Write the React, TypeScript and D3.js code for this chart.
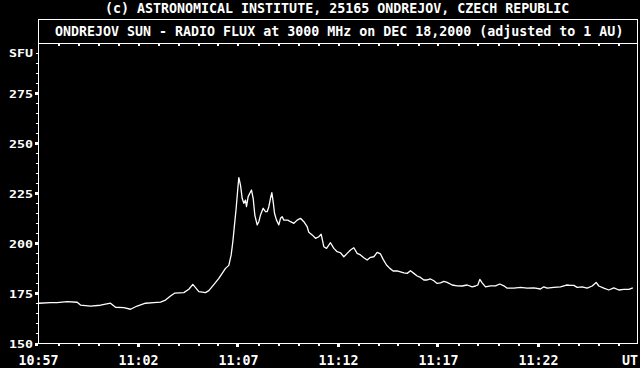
import React from "react";
import * as d3 from "d3";

// seconds after 10:57:00 UT
const timeSec: number[] = [
  1, 36, 56, 86, 116, 126, 156, 186, 216, 231, 256, 276, 296, 321, 346, 366, 381, 396, 408, 436,
  451, 463, 481, 501, 511, 529, 541, 551, 561, 571, 578, 583, 588, 593, 598, 601, 606, 611, 616, 621,
  624, 629, 634, 639, 644, 649, 656, 661, 666, 674, 681, 686, 691, 696, 700, 704, 708, 714, 721, 726,
  731, 736, 748, 756, 766, 776, 786, 796, 806, 811, 821, 831, 841, 848, 856, 864, 876, 886, 896, 906,
  916, 926, 936, 946, 956, 966, 976, 986, 996, 1006, 1016, 1026, 1034, 1044, 1054, 1064, 1076, 1086, 1096, 1106,
  1116, 1126, 1136, 1146, 1156, 1166, 1176, 1186, 1196, 1206, 1216, 1226, 1241, 1256, 1271, 1286, 1301, 1311, 1318, 1324,
  1331, 1341, 1356, 1371, 1384, 1396, 1406, 1426, 1446, 1466, 1486, 1506, 1516, 1526, 1546, 1566, 1584, 1596, 1606, 1616,
  1631, 1646, 1661, 1673, 1681, 1696, 1711, 1726, 1741, 1756, 1771, 1783,
];

// solar radio flux (SFU)
const fluxSfu: number[] = [
  170.1, 170.4, 170.4, 170.9, 170.6, 169.2, 168.7, 169.1, 170.1, 168.1, 167.9, 167.1, 168.7, 170.1, 170.4, 170.7, 171.7, 173.7, 175.1, 175.4,
  177.1, 179.5, 175.9, 175.4, 176.4, 180.0, 182.5, 185.0, 187.5, 189.0, 194.2, 200.8, 209.2, 217.5, 227.5, 232.8, 229.1, 222.5, 220.0, 221.6,
  218.3, 223.3, 225.0, 226.6, 222.5, 214.1, 209.2, 210.8, 214.1, 217.5, 215.8, 215.8, 218.3, 222.5, 225.3, 220.8, 215.0, 211.6, 209.2, 212.5,
  213.3, 211.6, 211.6, 210.8, 210.0, 211.6, 212.5, 210.8, 208.3, 205.5, 204.2, 202.5, 203.3, 204.6, 198.3, 197.5, 200.3, 197.5, 195.8, 195.3,
  193.3, 195.0, 196.7, 197.8, 195.0, 194.2, 192.8, 191.7, 193.0, 193.3, 195.5, 194.7, 192.0, 189.2, 187.5, 186.2, 186.3, 185.8, 185.3, 185.0,
  186.3, 185.0, 183.7, 183.0, 181.7, 181.7, 182.2, 181.3, 180.0, 180.3, 181.0, 180.5, 179.2, 178.8, 178.7, 179.2, 178.3, 178.7, 179.2, 182.0,
  180.3, 178.3, 178.8, 178.8, 179.7, 178.8, 177.6, 177.6, 178.0, 177.6, 177.8, 177.2, 178.3, 177.6, 178.0, 178.3, 179.2, 179.0, 179.0, 178.0,
  178.3, 177.6, 178.7, 180.5, 178.7, 177.6, 176.7, 177.8, 176.7, 177.0, 177.0, 177.8,
];

const yTickValues: number[] = [150, 175, 200, 225, 250, 275];
const xTickLabels: string[] = ["10:57", "11:02", "11:07", "11:12", "11:17", "11:22"];

const headerText = "(c) ASTRONOMICAL INSTITUTE, 25165 ONDREJOV, CZECH REPUBLIC";
const titleText = "ONDREJOV SUN - RADIO FLUX at 3000 MHz on DEC 18,2000 (adjusted to 1 AU)";

const W = 640;
const H = 368;
const FONT = "'DejaVu Sans Mono', 'Liberation Mono', monospace";

export default function App() {
  const x = d3.scaleLinear().domain([0, 1800]).range([38.5, 638.5]);
  const y = d3.scaleLinear().domain([150, 300]).range([343.5, 43]);

  const data = timeSec.map((t, i) => ({ t, v: fluxSfu[i] }));
  const line = d3
    .line<{ t: number; v: number }>()
    .x((d) => x(d.t))
    .y((d) => y(d.v));

  const minorY = d3.range(150, 300, 5).filter((v) => v % 25 !== 0);
  const minuteTicks = d3.range(60, 1800, 60);
  const majorX = d3.range(0, 1800, 300);

  const txt = {
    fontFamily: FONT,
    fontSize: 13.3,
    fontWeight: 700 as const,
    fill: "#fff",
  };

  return (
    <svg
      width={W}
      height={H}
      style={{ position: "absolute", left: 0, top: 0, background: "#000" }}
    >
      <rect x={0} y={0} width={W} height={H} fill="#000" />

      <text x={105} y={13} {...txt}>
        {headerText}
      </text>

      {/* title box */}
      <rect x={38.5} y={19.5} width={599} height={24} fill="none" stroke="#fff" strokeWidth={1} shapeRendering="crispEdges" />
      <text x={55} y={36} {...txt}>
        {titleText}
      </text>

      {/* frame */}
      <line x1={38.5} x2={38.5} y1={43} y2={344} stroke="#fff" shapeRendering="crispEdges" />
      <line x1={38} x2={638} y1={343.5} y2={343.5} stroke="#fff" shapeRendering="crispEdges" />
      <line x1={637.5} x2={637.5} y1={19} y2={344} stroke="#fff" shapeRendering="crispEdges" />

      {/* y ticks */}
      {minorY.map((v) => (
        <rect key={"my" + v} x={36} y={Math.round(y(v)) - 0.5} width={2} height={1} fill="#fff" shapeRendering="crispEdges" />
      ))}
      {yTickValues.map((v) => (
        <rect key={"My" + v} x={35} y={Math.round(y(v)) - 1.5} width={3} height={3} fill="#fff" shapeRendering="crispEdges" />
      ))}
      {yTickValues.map((v) => (
        <text
          key={"ly" + v}
          x={33}
          y={0}
          textAnchor="end"
          {...txt}
          transform={`translate(0,${y(v) + 4.5}) scale(1,0.82)`}
        >
          {String(v)}
        </text>
      ))}
      <text x={33} y={0} textAnchor="end" {...txt} transform={`translate(0,57) scale(1,0.82)`}>
        SFU
      </text>

      {/* x ticks */}
      {minuteTicks.map((t) => (
        <rect key={"mx" + t} x={Math.round(x(t)) - 1} y={344} width={2} height={2} fill="#fff" shapeRendering="crispEdges" />
      ))}
      {minuteTicks.map((t) => (
        <rect key={"tx" + t} x={Math.round(x(t)) - 1} y={44} width={2} height={2} fill="#fff" shapeRendering="crispEdges" />
      ))}
      {majorX.slice(1).map((t) => (
        <rect key={"Mx" + t} x={Math.round(x(t)) - 2} y={344} width={3} height={3} fill="#fff" shapeRendering="crispEdges" />
      ))}
      {majorX.map((t, i) => (
        <text key={"lx" + t} x={x(t)} y={365} textAnchor="middle" {...txt}>
          {xTickLabels[i]}
        </text>
      ))}
      <text x={638} y={365} textAnchor="end" {...txt}>
        UT
      </text>

      {/* flux curve */}
      <path d={line(data) || ""} fill="none" stroke="#fff" strokeWidth={1.3} strokeLinejoin="round" />
    </svg>
  );
}
